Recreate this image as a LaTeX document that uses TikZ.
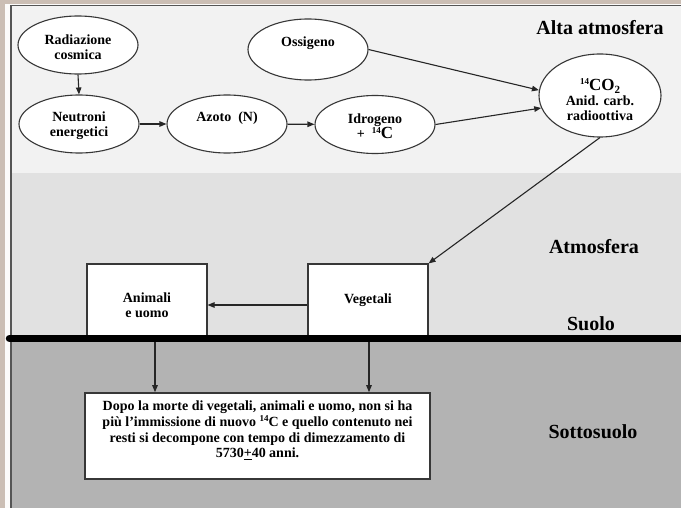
\documentclass[tikz,border=0pt]{standalone}
\usepackage{fontspec}
\setmainfont{Liberation Serif}
\usetikzlibrary{arrows.meta,shapes.geometric}

\definecolor{framec}{RGB}{203,190,180}
\definecolor{topband}{RGB}{242,242,242}
\definecolor{midband}{RGB}{225,225,225}
\definecolor{lowband}{RGB}{179,179,179}
\definecolor{edgec}{RGB}{55,55,55}

\begin{document}
\begin{tikzpicture}[x=1pt,y=-1pt,
  ell/.style={ellipse,draw=edgec,line width=1.1pt,fill=white,
    minimum width=120pt,minimum height=58pt,inner sep=1pt},
  boxnode/.style={rectangle,draw=edgec,line width=1.1pt,fill=white,
    minimum width=120pt,minimum height=72pt,inner sep=0pt},
  lbl/.style={font=\fontsize{14}{15}\selectfont\bfseries,align=center,inner sep=0pt},
  zone/.style={font=\fontsize{20}{22}\selectfont\bfseries,inner sep=0pt},
  arr/.style={draw=black!85,line width=1.1pt,-{Triangle[length=7pt,width=5.5pt]}}]

\useasboundingbox (0,0) rectangle (681,508);

% background
\fill[framec] (0,0) rectangle (681,508);
\fill[white!94!framec] (5,4) rectangle (681,508);
\fill[topband] (11,5.5) rectangle (681,173);
\fill[midband] (11,173) rectangle (681,338);
\fill[lowband] (11,338) rectangle (681,508);
\draw[edgec!85,line width=1.5pt] (11,508) -- (11,5.5) -- (681,5.5);

% zone labels
\node[zone] (alta) at (600,28) {Alta atmosfera};
\node[zone] (atm) at (594,247) {Atmosfera};
\node[zone] (suo) at (591,324) {Suolo};
\node[zone] (sot) at (593,432) {Sottosuolo};

% ellipses
\node[ell,label={[lbl,yshift=-2.5pt]center:{Radiazione\\cosmica}}] (rad) at (78,45) {};
\node[ell,label={[lbl,yshift=-1.5pt]center:{Neutroni\\energetici}}] (neu) at (79,124) {};
\node[ell,label={[lbl,yshift=6pt]center:{Azoto\ \ (N)}}] (azo) at (227,124) {};
\node[ell,minimum height=61pt,label={[lbl,yshift=6.5pt]center:{Ossigeno}}] (oss) at (308,49.5) {};
\node[ell,label={[lbl,yshift=-2pt]center:{Idrogeno\\+\ \ {\fontsize{9}{9}\selectfont\raisebox{5pt}{14}}{\fontsize{17}{17}\selectfont C}}}] (idr) at (375,124.5) {};
\node[ell,minimum width=122pt,minimum height=83pt,
  label={[lbl,yshift=-4pt]center:{{\fontsize{17}{17}\selectfont{\fontsize{9}{9}\selectfont\raisebox{6pt}{14}}CO\raisebox{-3pt}{\fontsize{11}{11}\selectfont 2}}\\Anid. carb.\\radioottiva}}] (co2) at (600,95.5) {};

% boxes
\node[boxnode,label={[lbl,yshift=-5pt]center:{Animali\\e uomo}}] (ani) at (147,300) {};
\node[boxnode,label={[lbl]center:{Vegetali}}] (veg) at (368,300) {};
\node[rectangle,draw=edgec,line width=1.6pt,fill=white,minimum width=345pt,minimum height=86pt,
  label={[font=\fontsize{14}{15.7}\selectfont\bfseries,align=center,inner sep=0pt,yshift=5.5pt]center:{Dopo la morte di vegetali, animali e uomo, non si ha\\pi\`u l’immissione di nuovo {\fontsize{9}{9}\selectfont\raisebox{5pt}{14}}C e quello contenuto nei\\resti si decompone con tempo di dimezzamento di\\5730\underline{+}40 anni.}}] (dopo) at (257.5,436) {};

% connectors
\draw[arr] (rad.south) -- (neu.north);
\draw[arr] (neu) -- (azo);
\draw[arr] (azo) -- (idr);
\draw[arr] (oss.east) -- (co2.175);
\draw[arr] (idr.east) -- (co2.192);
\draw[arr] (co2.south) -- (veg.north east);
\draw[arr] ([yshift=-5pt]veg.west) -- ([yshift=-5pt]ani.east);
\draw[arr] ([xshift=8pt]ani.south) -- ([xshift=8pt]ani.south |- dopo.north);
\draw[arr] ([xshift=1pt]veg.south) -- ([xshift=1pt]veg.south |- dopo.north);

% ground line
\draw[line width=7.5pt,line cap=round] (9.5,338.5) -- (681,338.5);
\end{tikzpicture}
\end{document}
